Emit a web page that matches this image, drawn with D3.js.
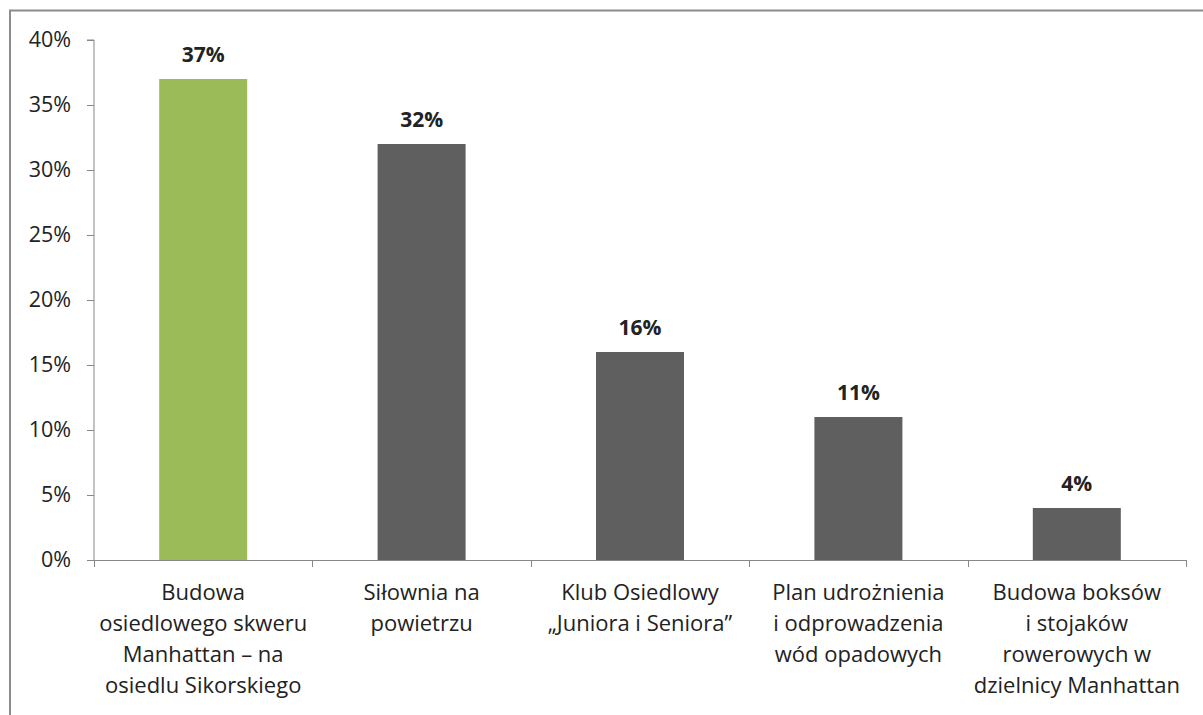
<!DOCTYPE html>
<html>
<head>
<meta charset="utf-8">
<script src="https://cdn.jsdelivr.net/npm/d3@7"></script>
<style>
  body { margin: 0; background: #fff; }
  svg { display: block; }
</style>
</head>
<body>
<svg id="chart" width="1203" height="715"></svg>
<script>
var categories = [
  ["Budowa", "osiedlowego skweru", "Manhattan – na", "osiedlu Sikorskiego"],
  ["Siłownia na", "powietrzu"],
  ["Klub Osiedlowy", "„Juniora i Seniora”"],
  ["Plan udrożnienia", "i odprowadzenia", "wód opadowych"],
  ["Budowa boksów", "i stojaków", "rowerowych w", "dzielnicy Manhattan"]
];
var values = [37, 32, 16, 11, 4];
var barColors = ["#9bbb59", "#5f5f5f", "#5f5f5f", "#5f5f5f", "#5f5f5f"];
var yTicks = [0, 5, 10, 15, 20, 25, 30, 35, 40];

var fontFamily = "'Open Sans', sans-serif";
var svg = d3.select("#chart");

// outer frame (right/bottom fall outside the picture)
svg.append("rect")
  .attr("x", 10)
  .attr("y", 10.5)
  .attr("width", 1220)
  .attr("height", 740)
  .attr("fill", "none")
  .attr("stroke", "#8c8c8c")
  .attr("stroke-width", 2);

var plotL = 94, plotR = 1186, plotT = 40, plotB = 560;

var x = d3.scaleBand()
  .domain(d3.range(values.length))
  .range([plotL, plotR])
  .paddingInner(0)
  .paddingOuter(0);

var y = d3.scaleLinear().domain([0, 40]).range([plotB, plotT]);

var barW = 88;

// y axis
var yAxis = svg.append("g")
  .attr("transform", "translate(" + plotL + ",0)")
  .call(d3.axisLeft(y).tickValues(yTicks).tickSize(7).tickPadding(16)
    .tickFormat(function (d) { return d + "%"; }));
yAxis.selectAll("path, line").attr("stroke", "#888");
yAxis.select(".domain").attr("d", "M-7," + plotT + "H0V" + plotB);
yAxis.selectAll("text")
  .attr("font-family", fontFamily)
  .attr("font-size", "21.5px")
  .attr("fill", "#222");

// bars
svg.selectAll(".bar")
  .data(values)
  .enter()
  .append("rect")
  .attr("class", "bar")
  .attr("x", function (d, i) { return x(i) + x.bandwidth() / 2 - barW / 2; })
  .attr("y", function (d) { return y(d); })
  .attr("width", barW)
  .attr("height", function (d) { return plotB - y(d); })
  .attr("fill", function (d, i) { return barColors[i]; });

// x axis line and category ticks
svg.append("line")
  .attr("x1", plotL).attr("x2", plotR)
  .attr("y1", plotB + 0.5).attr("y2", plotB + 0.5)
  .attr("stroke", "#888");
var tickXs = d3.range(values.length).map(function (i) { return x(i); }).concat([plotR]);
svg.selectAll(".xtick")
  .data(tickXs)
  .enter()
  .append("line")
  .attr("class", "xtick")
  .attr("x1", function (d) { return Math.round(d) + 0.5; })
  .attr("x2", function (d) { return Math.round(d) + 0.5; })
  .attr("y1", plotB)
  .attr("y2", plotB + 7)
  .attr("stroke", "#888");

// value labels
svg.selectAll(".val")
  .data(values)
  .enter()
  .append("text")
  .attr("class", "val")
  .attr("x", function (d, i) { return x(i) + x.bandwidth() / 2; })
  .attr("y", function (d) { return y(d) - 17; })
  .attr("text-anchor", "middle")
  .attr("font-family", fontFamily)
  .attr("font-weight", "bold")
  .attr("font-size", "21px")
  .attr("fill", "#222")
  .text(function (d) { return d + "%"; });

// category labels
var lab = svg.selectAll(".cat")
  .data(categories)
  .enter()
  .append("text")
  .attr("class", "cat")
  .attr("text-anchor", "middle")
  .attr("font-family", fontFamily)
  .attr("font-size", "22px")
  .attr("fill", "#222");
lab.selectAll("tspan")
  .data(function (d, i) { return d.map(function (s) { return { s: s, i: i }; }); })
  .enter()
  .append("tspan")
  .attr("x", function (d) { return x(d.i) + x.bandwidth() / 2; })
  .attr("y", function (d, j) { return 600 + j * 31; })
  .text(function (d) { return d.s; });
</script>
</body>
</html>
